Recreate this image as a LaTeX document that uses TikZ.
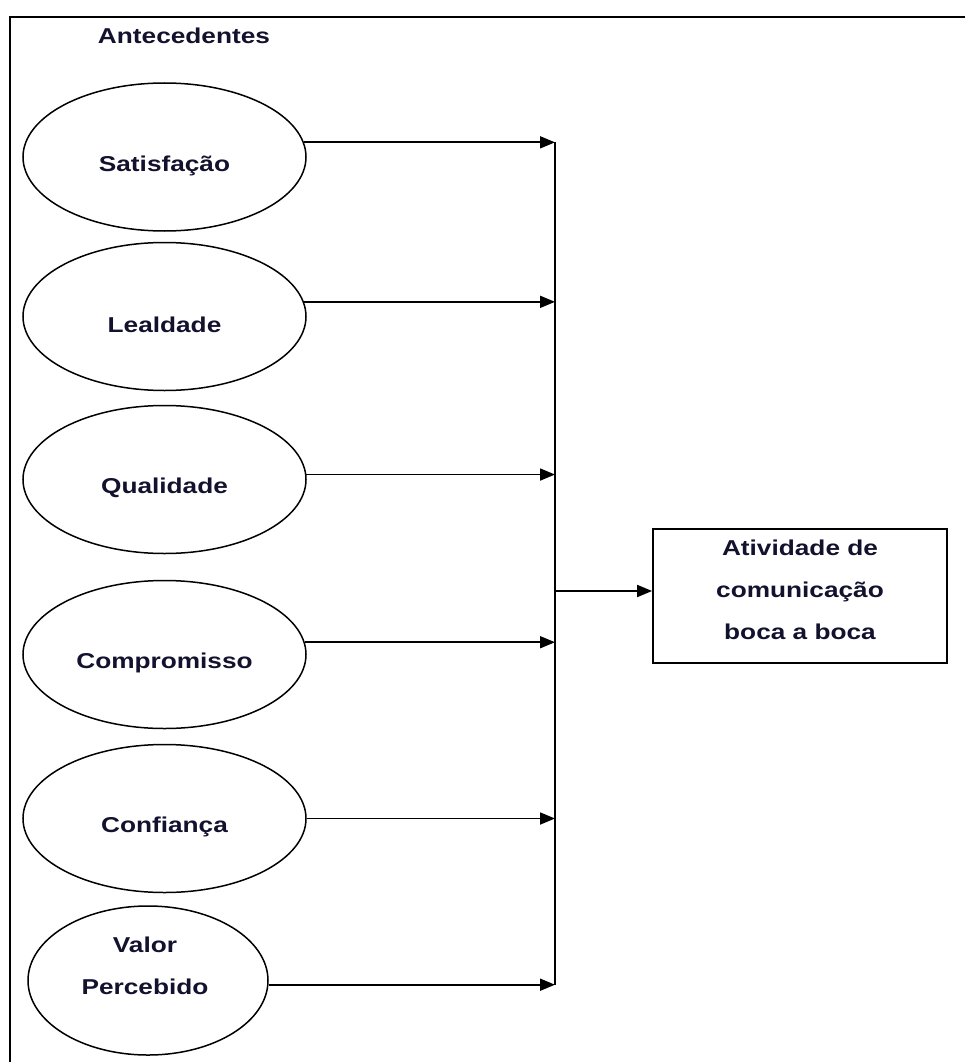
\documentclass[tikz,border=0pt]{standalone}
\usepackage{fontspec}
\setmainfont{Liberation Sans}[FakeStretch=1.22]
\usetikzlibrary{arrows.meta,shapes.geometric}
\definecolor{ink}{rgb}{0.07,0.07,0.18}

\begin{document}
\begin{tikzpicture}[x=1pt,y=-1pt,
  oval/.style={ellipse,draw,line width=1.5pt,minimum width=283pt,minimum height=148pt,inner sep=0pt},
  lbl/.style={font=\fontsize{21.5}{42}\selectfont\bfseries,text=ink,align=center,inner sep=0pt},
  arr/.style={-{Triangle[length=15pt,width=12pt]},line width=1.8pt},
  wire/.style={line width=2pt}]
\useasboundingbox (0,0) rectangle (964,1062);

% open frame (left and top edges)
\draw[wire] (10,1080) -- (10,17) -- (980,17);
\node[lbl] (title) at (184,36) {Antecedentes};

% antecedents
\node[oval] (e1) at (164.5,157) {};
\node[oval] (e2) at (164.5,316.5) {};
\node[oval] (e3) at (164.5,479.5) {};
\node[oval] (e4) at (164.5,654.5) {};
\node[oval] (e5) at (164.5,818.5) {};
\node[oval,minimum width=240pt,minimum height=149pt] (e6) at (148,980.5) {};

\node[lbl] (t1) at ([yshift=-9pt]e1.center) {Satisfação};
\node[lbl] (t2) at ([yshift=-8.5pt]e2.center) {Lealdade};
\node[lbl] (t3) at ([yshift=-8.5pt]e3.center) {Qualidade};
\node[lbl] (t4) at ([yshift=-8.5pt]e4.center) {Compromisso};
\node[lbl] (t5) at ([yshift=-8.5pt]e5.center) {Confiança};
\node[lbl] (t6) at ([xshift=-3pt,yshift=15pt]e6.center) {Valor\\Percebido};

% outcome
\node[draw,line width=1.8pt,minimum width=294pt,minimum height=134pt,inner sep=0pt] (box) at (800,596) {};
\node[lbl] (tb) at ([yshift=6pt]box.center) {Atividade de\\comunicação\\boca a boca};

% collecting bus
\coordinate (bus) at (555,0);
\draw[arr] (e1.6.2) -- (e1.6.2 -| bus);
\draw[arr] (e2.6.4) -- (e2.6.4 -| bus);
\draw[arr] (e3.2.7) -- (e3.2.7 -| bus);
\draw[arr] (e4.5.2) -- (e4.5.2 -| bus);
\draw[arr] (e5.0) -- (e5.0 -| bus);
\draw[arr] (e6.-2.6) -- (e6.-2.6 -| bus);
\draw[wire] (e1.6.2 -| bus) -- (e6.-2.6 -| bus);

\coordinate (feed) at ([yshift=5pt]box.west);
\draw[arr] (feed -| bus) -- (feed);
\end{tikzpicture}
\end{document}
